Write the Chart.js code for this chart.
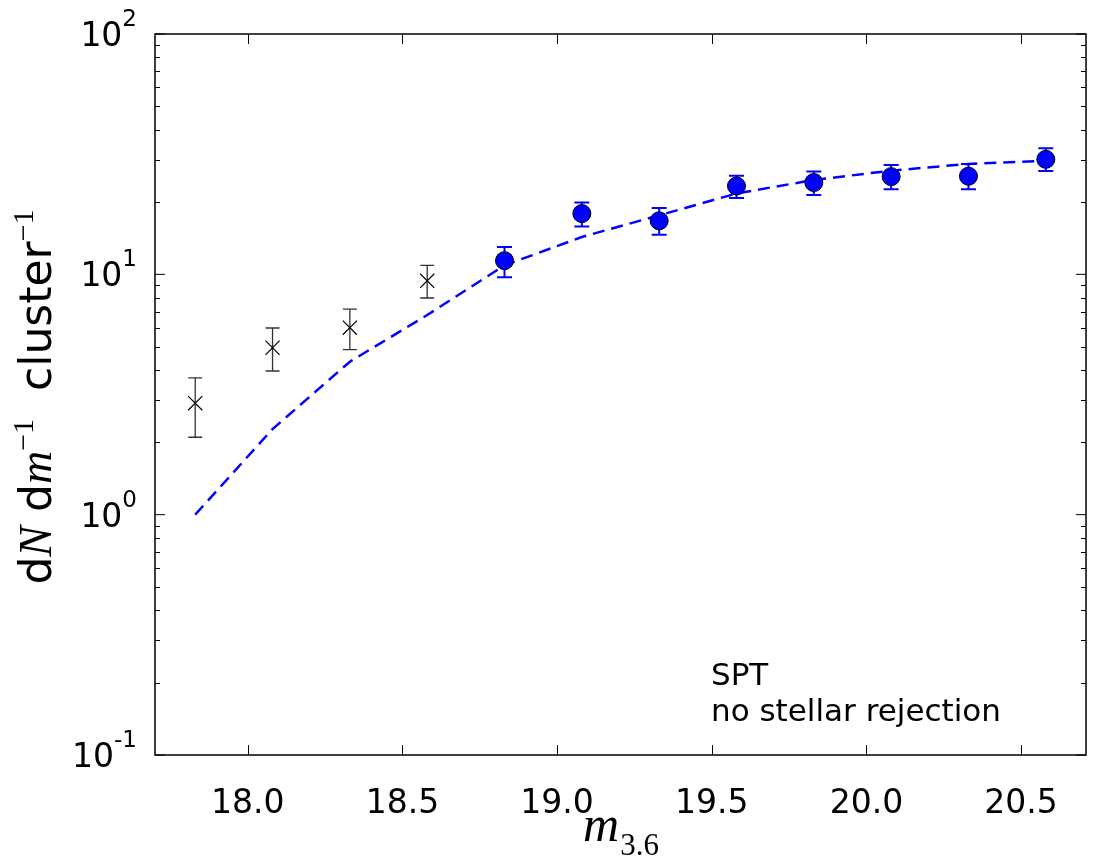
<!DOCTYPE html>
<html>
<head>
<meta charset="utf-8">
<script src="https://cdn.jsdelivr.net/npm/chart.js@4"></script>
<style>
  html, body { margin: 0; padding: 0; background: #fff; }
  #wrap { width: 1101px; height: 867px; }
</style>
</head>
<body>
<div id="wrap"><canvas id="lumChart" width="1101" height="867"></canvas></div>
<script>
// axis ticks
const xTickValues = [18.0, 18.5, 19.0, 19.5, 20.0, 20.5];
const yTickExponents = [-1, 0, 1, 2];

// bright bins (black crosses)
const crossMag = [17.83, 18.08, 18.33, 18.58];
const crossVal = [2.91, 4.95, 6.0, 9.4];
const crossLo = [2.10, 3.96, 4.86, 7.97];
const crossHi = [3.71, 5.98, 7.17, 10.9];

// fitted bins (blue circles)
const dotMag = [18.83, 19.08, 19.33, 19.58, 19.83, 20.08, 20.33, 20.58];
const dotVal = [11.4, 17.9, 16.7, 23.3, 24.1, 25.5, 25.6, 30.1];
const dotLo = [9.72, 15.8, 14.6, 20.8, 21.4, 22.6, 22.6, 26.9];
const dotHi = [13.0, 19.9, 18.9, 25.7, 26.8, 28.5, 28.8, 33.5];

// model curve (dashed)
const modelMag = [17.83, 18.08, 18.33, 18.58, 18.83, 19.08, 19.33, 19.58, 19.83, 20.08, 20.33, 20.58];
const modelVal = [1.0, 2.27, 4.33, 6.77, 10.9, 14.3, 17.6, 21.7, 24.7, 27.0, 28.8, 29.7];

const annotationLines = ['SPT', 'no stellar rejection'];

const SANS = '"DejaVu Sans", sans-serif';
const SERIF = '"Liberation Serif", "DejaVu Serif", serif';

function toPoints(xs, ys) {
    return xs.map((x, i) => ({ x: x, y: ys[i] }));
}

const errorBars = {
    id: 'errorBars',
    beforeDatasetsDraw(chart) {
        const ctx = chart.ctx;
        const xs = chart.scales.x, ys = chart.scales.y;
        chart.data.datasets.forEach(ds => {
            if (!ds.errLo) return;
            ctx.save();
            ctx.strokeStyle = ds.errColor;
            ctx.lineWidth = ds.errWidth;
            ds.data.forEach((p, i) => {
                const px = xs.getPixelForValue(p.x);
                const y1 = ys.getPixelForValue(ds.errLo[i]);
                const y2 = ys.getPixelForValue(ds.errHi[i]);
                ctx.beginPath();
                ctx.moveTo(px, y1); ctx.lineTo(px, y2);
                ctx.moveTo(px - ds.capHalf, y1); ctx.lineTo(px + ds.capHalf, y1);
                ctx.moveTo(px - ds.capHalf, y2); ctx.lineTo(px + ds.capHalf, y2);
                ctx.stroke();
            });
            ctx.restore();
        });
    }
};

const frameAndLabels = {
    id: 'frameAndLabels',
    afterDraw(chart) {
        const ctx = chart.ctx;
        const { left, right, top, bottom } = chart.chartArea;
        const xs = chart.scales.x, ys = chart.scales.y;
        ctx.save();
        ctx.strokeStyle = '#000';
        ctx.fillStyle = '#000';

        // frame
        ctx.lineWidth = 1.5;
        ctx.strokeRect(left, top, right - left, bottom - top);

        // ticks, pointing in
        ctx.lineWidth = 1;
        ctx.beginPath();
        xTickValues.forEach(v => {
            const px = Math.round(xs.getPixelForValue(v)) + 0.5;
            ctx.moveTo(px, bottom); ctx.lineTo(px, bottom - 10);
            ctx.moveTo(px, top); ctx.lineTo(px, top + 10);
        });
        yTickExponents.forEach(e => {
            const py = ys.getPixelForValue(Math.pow(10, e));
            ctx.moveTo(left, py); ctx.lineTo(left + 10, py);
            ctx.moveTo(right, py); ctx.lineTo(right - 10, py);
            if (e < 2) {
                for (let k = 2; k <= 9; k++) {
                    const pm = Math.round(ys.getPixelForValue(k * Math.pow(10, e))) + 0.5;
                    ctx.moveTo(left, pm); ctx.lineTo(left + 5, pm);
                    ctx.moveTo(right, pm); ctx.lineTo(right - 5, pm);
                }
            }
        });
        ctx.stroke();

        // x tick labels
        ctx.font = '33px ' + SANS;
        ctx.textAlign = 'center';
        ctx.textBaseline = 'alphabetic';
        xTickValues.forEach(v => {
            ctx.fillText(v.toFixed(1), xs.getPixelForValue(v), bottom + 58);
        });

        // y tick labels 10^e
        yTickExponents.forEach(e => {
            const py = ys.getPixelForValue(Math.pow(10, e));
            const sup = String(e);
            ctx.font = '23px ' + SANS;
            const supW = ctx.measureText(sup).width;
            ctx.textAlign = 'right';
            ctx.fillText(sup, left - 18, py - 8);
            ctx.font = '33px ' + SANS;
            ctx.fillText('10', left - 18 - supW, py + 12);
        });

        // annotation
        ctx.font = '31px ' + SANS;
        ctx.textAlign = 'left';
        annotationLines.forEach((t, i) => {
            ctx.fillText(t, 711, 685 + i * 36);
        });

        // x axis title: m_{3.6}
        ctx.textAlign = 'left';
        ctx.font = 'italic 50px ' + SERIF;
        const mW = ctx.measureText('m').width;
        ctx.font = '31px ' + SERIF;
        const sW = ctx.measureText('3.6').width;
        const cx = (left + right) / 2 - (mW + sW) / 2;
        ctx.font = 'italic 50px ' + SERIF;
        ctx.fillText('m', cx, 841);
        ctx.font = '31px ' + SERIF;
        ctx.fillText('3.6', cx + mW + 1, 855);

        // y axis title: dN dm^-1  cluster^-1
        const parts = [
            { t: 'd', f: '44px ' + SANS, dy: 0 },
            { t: 'N', f: 'italic 46px ' + SERIF, dy: 0 },
            { t: ' d', f: '44px ' + SANS, dy: 0 },
            { t: 'm', f: 'italic 46px ' + SERIF, dy: 0 },
            { t: '\u22121', f: '30px ' + SERIF, dy: -18 },
            { t: '  cluster', f: '44px ' + SANS, dy: 0 },
            { t: '\u22121', f: '30px ' + SERIF, dy: -18 }
        ];
        let total = 0;
        parts.forEach(p => { ctx.font = p.f; p.w = ctx.measureText(p.t).width; total += p.w; });
        ctx.translate(51, 397);
        ctx.rotate(-Math.PI / 2);
        let tx = -total / 2;
        parts.forEach(p => {
            ctx.font = p.f;
            ctx.fillText(p.t, tx, p.dy);
            tx += p.w;
        });
        ctx.restore();
    }
};

const ctx = document.getElementById('lumChart').getContext('2d');
new Chart(ctx, {
    type: 'scatter',
    data: {
        datasets: [
            {
                label: 'model',
                type: 'line',
                data: toPoints(modelMag, modelVal),
                borderColor: '#0000ff',
                borderWidth: 2.5,
                borderDash: [12, 7],
                pointRadius: 0,
                fill: false,
                tension: 0,
                order: 3
            },
            {
                label: 'bright',
                data: toPoints(crossMag, crossVal),
                pointStyle: 'crossRot',
                pointRadius: 10,
                borderColor: '#000',
                borderWidth: 1.2,
                errLo: crossLo, errHi: crossHi,
                errColor: '#333', errWidth: 1.3, capHalf: 7,
                order: 2
            },
            {
                label: 'fit',
                data: toPoints(dotMag, dotVal),
                pointStyle: 'circle',
                pointRadius: 9,
                backgroundColor: '#0000ff',
                borderColor: '#000',
                borderWidth: 1,
                errLo: dotLo, errHi: dotHi,
                errColor: '#0000ff', errWidth: 2, capHalf: 7.5,
                order: 1
            }
        ]
    },
    options: {
        responsive: false,
        animation: false,
        layout: { padding: { left: 155, right: 15, top: 34, bottom: 112 } },
        scales: {
            x: {
                type: 'linear', min: 17.7, max: 20.71,
                ticks: { display: false },
                grid: { display: false },
                border: { display: false },
                afterFit: s => { s.height = 0; }
            },
            y: {
                type: 'logarithmic', min: 0.1, max: 100,
                ticks: { display: false },
                grid: { display: false },
                border: { display: false },
                afterFit: s => { s.width = 0; }
            }
        },
        plugins: {
            legend: { display: false },
            tooltip: { enabled: false }
        }
    },
    plugins: [errorBars, frameAndLabels]
});
</script>
</body>
</html>
